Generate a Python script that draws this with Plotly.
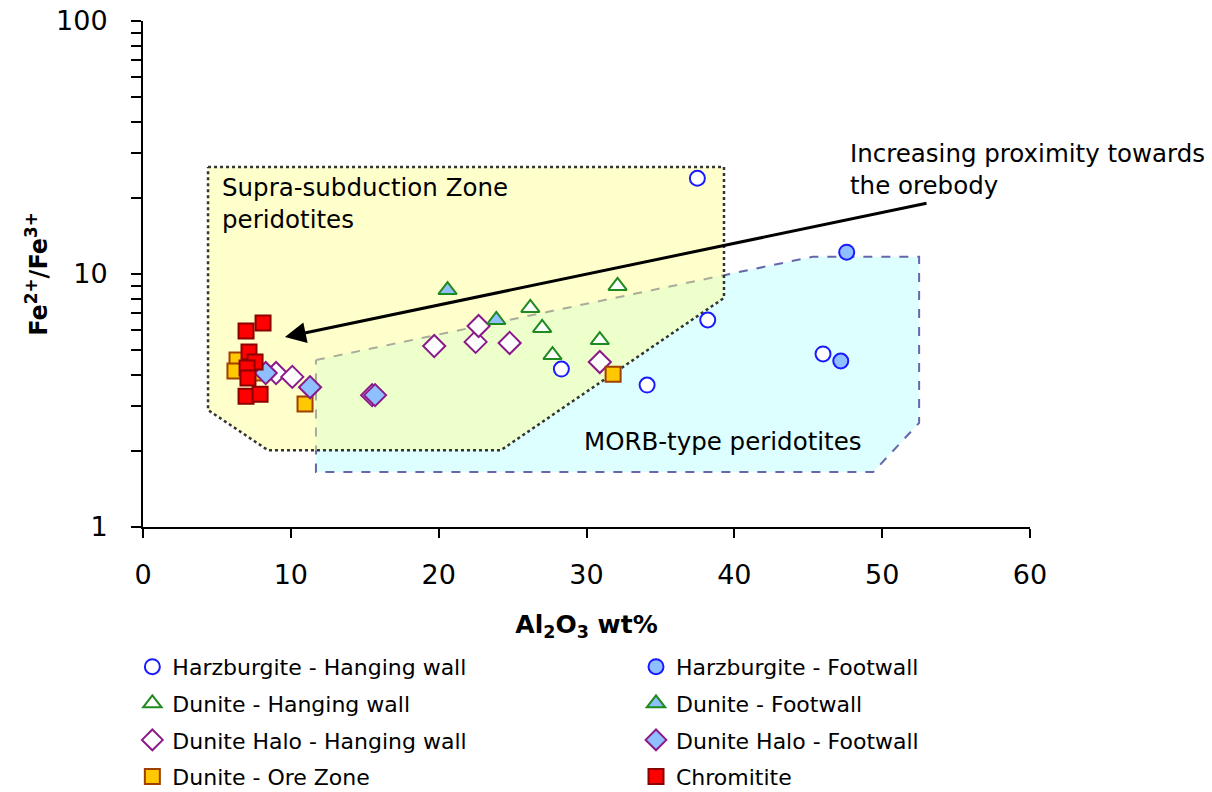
import math
import plotly.graph_objects as go

# Al2O3 (wt%) and Fe2+/Fe3+ for each sample group
harz_hw_x = [37.5, 38.2, 28.3, 34.1, 46.0]
harz_hw_y = [23.9, 6.58, 4.21, 3.64, 4.83]

harz_fw_x = [47.6, 47.2]
harz_fw_y = [12.2, 4.53]

dun_hw_x = [26.2, 27.0, 27.7, 30.9, 32.1]
dun_hw_y = [7.34, 6.12, 4.78, 5.48, 8.97]

dun_fw_x = [20.6, 23.9]
dun_fw_y = [8.64, 6.58]

halo_hw_x = [9.0, 10.1, 15.5, 19.7, 22.5, 22.7, 24.8, 30.9]
halo_hw_y = [4.06, 3.92, 3.32, 5.19, 5.39, 6.23, 5.34, 4.49]

halo_fw_x = [8.3, 11.3, 15.7]
halo_fw_y = [4.06, 3.57, 3.32]

ore_x = [6.36, 6.22, 7.71, 10.96, 31.8]
ore_y = [4.57, 4.14, 4.06, 3.06, 4.02]

chrom_x = [6.97, 8.12, 7.17, 7.58, 7.04, 7.10, 6.97, 7.92]
chrom_y = [5.95, 6.40, 4.92, 4.49, 4.25, 3.88, 3.29, 3.35]

# Discrimination fields
ssz_x = [4.4, 39.3, 39.3, 24.2, 8.46, 4.4, 4.4]
ssz_y = [26.5, 26.5, 8.04, 2.01, 2.01, 2.90, 26.5]

morb_x = [11.7, 45.3, 52.5, 52.5, 49.4, 11.7, 11.7]
morb_y = [4.57, 11.7, 11.7, 2.58, 1.65, 1.65, 4.57]

# Arrow: tail and head positions
arrow_tail = (53.1, 19.1)
arrow_head = (9.6, 5.63)

FONT = "DejaVu Sans, Verdana, sans-serif"
LIGHT_BLUE = "#8fbfff"

fig = go.Figure()

fig.add_trace(go.Scatter(
    x=morb_x, y=morb_y, mode="lines", fill="toself",
    fillcolor="rgb(222,255,255)",
    line=dict(color="#6666AA", width=2, dash="dash"),
    showlegend=False, hoverinfo="skip"))
fig.add_trace(go.Scatter(
    x=ssz_x, y=ssz_y, mode="lines", fill="toself",
    fillcolor="rgba(255,255,140,0.45)",
    line=dict(color="#333333", width=2.5, dash="dot"),
    showlegend=False, hoverinfo="skip"))


def add_group(name, xs, ys, symbol, fill, edge, size, legend):
    fig.add_trace(go.Scatter(
        x=xs, y=ys, mode="markers", name=name,
        legend=legend, legendgroup=name,
        marker=dict(symbol=symbol, size=size, color=fill,
                    line=dict(color=edge, width=2))))


add_group("Harzburgite - Hanging wall", harz_hw_x, harz_hw_y, "circle", "white", "#1a1aff", 15, "legend")
add_group("Dunite - Hanging wall", dun_hw_x, dun_hw_y, "triangle-up", "white", "#1f8a1f", 16, "legend")
add_group("Dunite Halo - Hanging wall", halo_hw_x, halo_hw_y, "diamond", "white", "#8a1a8a", 17, "legend")
add_group("Dunite - Ore Zone", ore_x, ore_y, "square", "#ffc800", "#a04000", 15, "legend")
add_group("Harzburgite - Footwall", harz_fw_x, harz_fw_y, "circle", LIGHT_BLUE, "#1a1aff", 15, "legend2")
add_group("Dunite - Footwall", dun_fw_x, dun_fw_y, "triangle-up", LIGHT_BLUE, "#1f8a1f", 16, "legend2")
add_group("Dunite Halo - Footwall", halo_fw_x, halo_fw_y, "diamond", LIGHT_BLUE, "#8a1a8a", 17, "legend2")
add_group("Chromitite", chrom_x, chrom_y, "square", "#ff0000", "#8b0000", 15, "legend2")

fig.add_annotation(
    x=arrow_head[0], y=math.log10(arrow_head[1]),
    ax=arrow_tail[0], ay=math.log10(arrow_tail[1]),
    xref="x", yref="y", axref="x", ayref="y",
    showarrow=True, arrowhead=2, arrowsize=1.4, arrowwidth=3,
    arrowcolor="black", text="")

txt_font = dict(family=FONT, size=24.5, color="black")
fig.add_annotation(
    xref="paper", yref="paper", x=(848 - 143) / 887, y=(527 - 137) / 506,
    xanchor="left", yanchor="top", align="left", showarrow=False,
    text="Increasing proximity towards<br>the orebody", font=txt_font)
fig.add_annotation(
    xref="paper", yref="paper", x=(220 - 143) / 887, y=(527 - 171) / 506,
    xanchor="left", yanchor="top", align="left", showarrow=False,
    text="Supra-subduction Zone<br>peridotites", font=txt_font)
fig.add_annotation(
    xref="paper", yref="paper", x=(582 - 143) / 887, y=(527 - 441) / 506,
    xanchor="left", yanchor="middle", align="left", showarrow=False,
    text="MORB-type peridotites", font=txt_font)

legend_common = dict(
    orientation="v", yanchor="top", xanchor="left", y=-0.235,
    font=dict(family=FONT, size=22, color="black"),
    bgcolor="rgba(0,0,0,0)", tracegroupgap=5)

fig.update_layout(
    width=1212, height=792,
    margin=dict(l=143, r=182, t=21, b=265, autoexpand=False),
    paper_bgcolor="white", plot_bgcolor="white",
    font=dict(family=FONT, color="black"),
    showlegend=True,
    legend=dict(x=-0.012, **legend_common),
    legend2=dict(x=(636 - 143) / 887, **legend_common),
)

fig.update_xaxes(
    range=[0, 60], tickvals=[0, 10, 20, 30, 40, 50, 60],
    showline=True, linecolor="black", linewidth=2,
    ticks="outside", ticklen=9, tickwidth=2, tickcolor="black",
    ticklabelstandoff=14,
    showgrid=False, zeroline=False,
    tickfont=dict(family=FONT, size=27, color="black"),
    title=dict(text="<b>Al<sub>2</sub>O<sub>3</sub> wt%</b>",
               font=dict(family=FONT, size=25, color="black"), standoff=26),
)

fig.update_yaxes(
    type="log", range=[0, 2],
    tickvals=[1, 10, 100], ticktext=["1", "10", "100"],
    showline=True, linecolor="black", linewidth=2,
    ticks="outside", ticklen=10, tickwidth=2, tickcolor="black",
    ticklabelstandoff=18,
    minor=dict(tickvals=[2, 3, 4, 5, 6, 7, 8, 9, 20, 30, 40, 50, 60, 70, 80, 90],
               ticks="outside", ticklen=10, tickwidth=2, tickcolor="black"),
    showgrid=False, zeroline=False,
    tickfont=dict(family=FONT, size=27, color="black"),
    title=dict(text="<b>Fe<sup>2+</sup>/Fe<sup>3+</sup></b>",
               font=dict(family=FONT, size=24, color="black"), standoff=2),
)

fig.write_html("out.html")
